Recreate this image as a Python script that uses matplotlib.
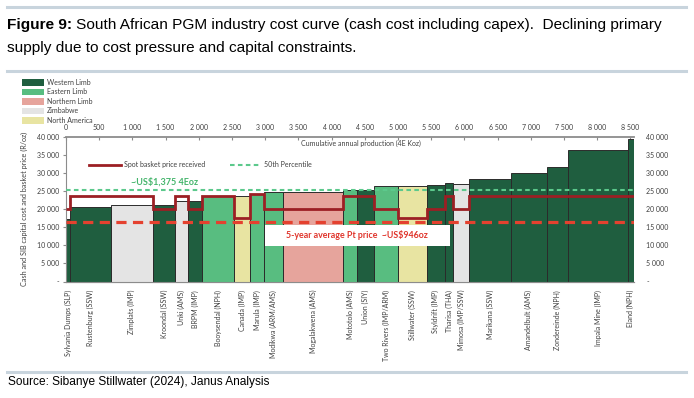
import numpy as np
import matplotlib
matplotlib.use("Agg")
import matplotlib.pyplot as plt
from matplotlib.patches import Patch, Rectangle
from matplotlib.lines import Line2D

# data (R/oz, koz)
mines = ["Sylvania Dumps (SLP)", "Rustenburg (SSW)", "Zimplats (IMP)", "Kroondal (SSW)",
         "Unki (AMS)", "BRPM (IMP)", "Booysendal (NPH)", "Canada (IMP)", "Marula (IMP)",
         "Modikwa (ARM/AMS)", "Mogalakwena (AMS)", "Mototolo (AMS)", "Union (SIY)",
         "Two Rivers (IMP/ARM)", "Stillwater (SSW)", "Styldrift (IMP)", "Tharisa (THA)",
         "Mimosa (IMP/SSW)", "Marikana (SSW)", "Amandelbult (AMS)", "Zondereinde (NPH)",
         "Impala Mine (IMP)", "Eland (NPH)"]
regions = ["W", "W", "Z", "W", "Z", "W", "E", "NA", "E", "E", "N", "E", "W",
           "E", "NA", "W", "W", "Z", "W", "W", "W", "W", "W"]
production = [60, 613, 633, 340, 196, 211, 477, 241, 215, 278, 912, 211, 256,
              362, 427, 276, 125, 236, 633, 537, 326, 894, 95]
cost = [17400, 20600, 21300, 21300, 22300, 22300, 23700, 23700, 24100, 24700, 24900,
        25300, 25300, 26400, 26500, 26700, 27300, 27100, 28300, 29900, 31800, 36400, 39400]
spot_price = [20000, 23600, 23600, 20100, 23600, 20100, 23600, 17600, 24100, 20000, 20000,
              23600, 23600, 20000, 17700, 20000, 23600, 20000, 23600, 23600, 23600, 23600, 23600]
percentile_50 = 25200
pt_avg_5yr = 16400

region_names = {"W": "Western Limb", "E": "Eastern Limb", "N": "Northern Limb",
                "Z": "Zimbabwe", "NA": "North America"}
region_colors = {"W": "#1f5e3f", "E": "#58bd80", "N": "#e6a49c",
                 "Z": "#e4e4e4", "NA": "#e8e4a2"}

chart_font = ["Lato", "DejaVu Sans"]
text_font = ["Liberation Sans", "DejaVu Sans"]
plt.rcParams["font.family"] = chart_font

fig = plt.figure(figsize=(6.94, 3.98), dpi=100)

# separators
for yy in (7, 71, 372):
    fig.add_artist(Line2D([7 / 694, 686 / 694], [1 - yy / 398] * 2, color="#c8d4dd", lw=2.2))

t1 = fig.text(7 / 694, 1 - 29 / 398, "Figure 9:", fontsize=11.1, weight="bold",
              family=text_font, va="baseline")
fig.canvas.draw()
bb = t1.get_window_extent()
fig.text((bb.x1 + 4) / 694, 1 - 29 / 398,
         "South African PGM industry cost curve (cash cost including capex).  Declining primary",
         fontsize=11.1, family=text_font, va="baseline")
fig.text(7 / 694, 1 - 52 / 398, "supply due to cost pressure and capital constraints.",
         fontsize=11.1, family=text_font, va="baseline")
fig.text(8 / 694, 1 - 385 / 398, "Source: Sibanye Stillwater (2024), Janus Analysis",
         fontsize=8.6, family=text_font, va="baseline")

ax = fig.add_axes([66 / 694, 1 - 281.5 / 398, 568 / 694, 144.5 / 398])

edges = np.concatenate([[0], np.cumsum(production)])
lefts = edges[:-1]
centers = lefts + np.array(production) / 2

ax.bar(lefts, cost, width=production, align="edge",
       color=[region_colors[r] for r in regions], edgecolor="#2b2b2b", linewidth=0.7, zorder=2)
ax.stairs(spot_price, edges, baseline=None, color="#9c1f24", lw=2.0, zorder=4)
ax.axhline(percentile_50, color="#5cc98c", lw=1.5, dashes=(2.2, 1.6), zorder=3)
ax.axhline(pt_avg_5yr, color="#e4412f", lw=2.3, dashes=(3.2, 2.0), zorder=3)

ax.set_xlim(0, edges[-1])
ax.set_ylim(0, 40000)

fmt = lambda v: "-" if v == 0 else f"{int(v):,}".replace(",", " ")
xt = list(range(0, 8501, 500))
ax.xaxis.tick_top()
ax.set_xticks(xt, [fmt(v) if v else "0" for v in xt])
ax.tick_params(axis="x", direction="in", length=2, labelsize=5, pad=4, colors="#8c8c8c",
               labelcolor="#404040")
yt = list(range(0, 40001, 5000))
ax.set_yticks(yt, [fmt(v) for v in yt])
ax.tick_params(axis="y", length=2, labelsize=5, pad=3, colors="#8c8c8c", labelcolor="#404040")

ax.spines["right"].set_visible(False)
for s in ("top", "left", "bottom"):
    ax.spines[s].set_color("#8c8c8c")
ax.spines["top"].set_linewidth(1.3)

ax2 = ax.twinx()
ax2.set_ylim(0, 40000)
ax2.set_yticks(yt, [fmt(v) for v in yt])
ax2.tick_params(axis="y", length=0, labelsize=5, pad=9, labelcolor="#404040")
for s in ax2.spines.values():
    s.set_visible(False)

sec = ax.secondary_xaxis("bottom")
sec.set_xticks(centers, mines)
sec.tick_params(axis="x", length=0, labelsize=5, pad=6, rotation=90, labelcolor="#404040")
sec.spines["bottom"].set_color("#8c8c8c")

ax.set_ylabel("Cash and SIB capital cost and basket price (R/oz)", fontsize=5.2, color="#404040")
ax.yaxis.set_label_coords(-0.067, 0.5)
ax.text(0.52, 0.954, "Cumulative annual production (4E Koz)", transform=ax.transAxes,
        ha="center", va="center", fontsize=5, color="#404040")

ax.text(1490, 27600, r"~US\$1,375 4Eoz", ha="center", va="center", fontsize=6.5,
        weight="bold", color="#45b56c", zorder=5)

ax.add_patch(Rectangle((0.350, 0.248), 0.326, 0.143, transform=ax.transAxes,
                       facecolor="white", edgecolor="none", zorder=5))
ax.text(0.513, 0.32, r"5-year average Pt price  ~US\$946oz", transform=ax.transAxes,
        ha="center", va="center", fontsize=6.4, weight="bold", color="#e0352c", zorder=6)

leg_handles = [Line2D([], [], color="#9c1f24", lw=2.0),
               Line2D([], [], color="#5cc98c", lw=1.5, dashes=(2.2, 1.6))]
ax.legend(leg_handles, ["Spot basket price received", "50th Percentile"], ncol=2,
          loc="center left", bbox_to_anchor=(0.03, 0.81), frameon=False, fontsize=5,
          handlelength=4.5, columnspacing=3.5, handletextpad=0.5, labelcolor="#404040")

reg_handles = [Patch(facecolor=region_colors[k], edgecolor="none") for k in region_names]
fig.legend(reg_handles, list(region_names.values()), loc="upper left",
           bbox_to_anchor=(22 / 694, 1 - 79 / 398), frameon=False, fontsize=5,
           handlelength=3.2, handleheight=1.1, labelspacing=0.35, handletextpad=0.4,
           borderpad=0, borderaxespad=0, labelcolor="#404040")

fig.savefig("out.png", dpi=100)
